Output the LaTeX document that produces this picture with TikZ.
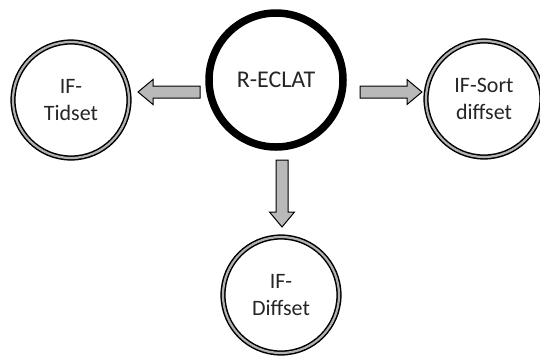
\documentclass[tikz,border=0pt]{standalone}
\usepackage{fontspec}
\setmainfont{Carlito}
\begin{document}
\begin{tikzpicture}[x=1pt,y=-1pt,
  hub/.style={circle, draw=black, line width=7.5pt, fill=white,
    minimum size=134pt, inner sep=0pt, font=\fontsize{24}{28}\selectfont,
    text=black!85},
  ring/.style={circle, draw=black, line width=1.5pt, double=gray!60,
    double distance=2.2pt, fill=white, minimum size=116pt, inner sep=0pt,
    align=center, font=\fontsize{22}{27}\selectfont, text=black!85},
  arrowbody/.style={draw=black, line width=1pt, fill=gray!55, line join=miter},
  pics/blockarrow/.style={code={
    \path[arrowbody] (0,-6) -- (#1-15,-6) -- (#1-15,-12.5) -- (#1,0)
      -- (#1-15,12.5) -- (#1-15,6) -- (0,6) -- cycle;}}]
  \useasboundingbox (0,0) rectangle (540,360);

  % circles
  \node[hub]  (main)   at (276,80)  {R-ECLAT};
  \node[ring] (tidset) at (71,100)  {IF-\\Tidset};
  \node[ring] (sortd)  at (484,99)  {IF-Sort\\diffset};
  \node[ring] (diffs)  at (281,295) {IF-\\Diffset};

  % block arrows from the hub
  \coordinate (tailL) at (200,92);
  \coordinate (tailR) at (360,92);
  \coordinate (tailD) at (282,160);
  \pic[rotate=180] at (tailL) {blockarrow=62};
  \pic at (tailR) {blockarrow=62};
  \pic[rotate=-90] at (tailD) {blockarrow=67};
\end{tikzpicture}
\end{document}
